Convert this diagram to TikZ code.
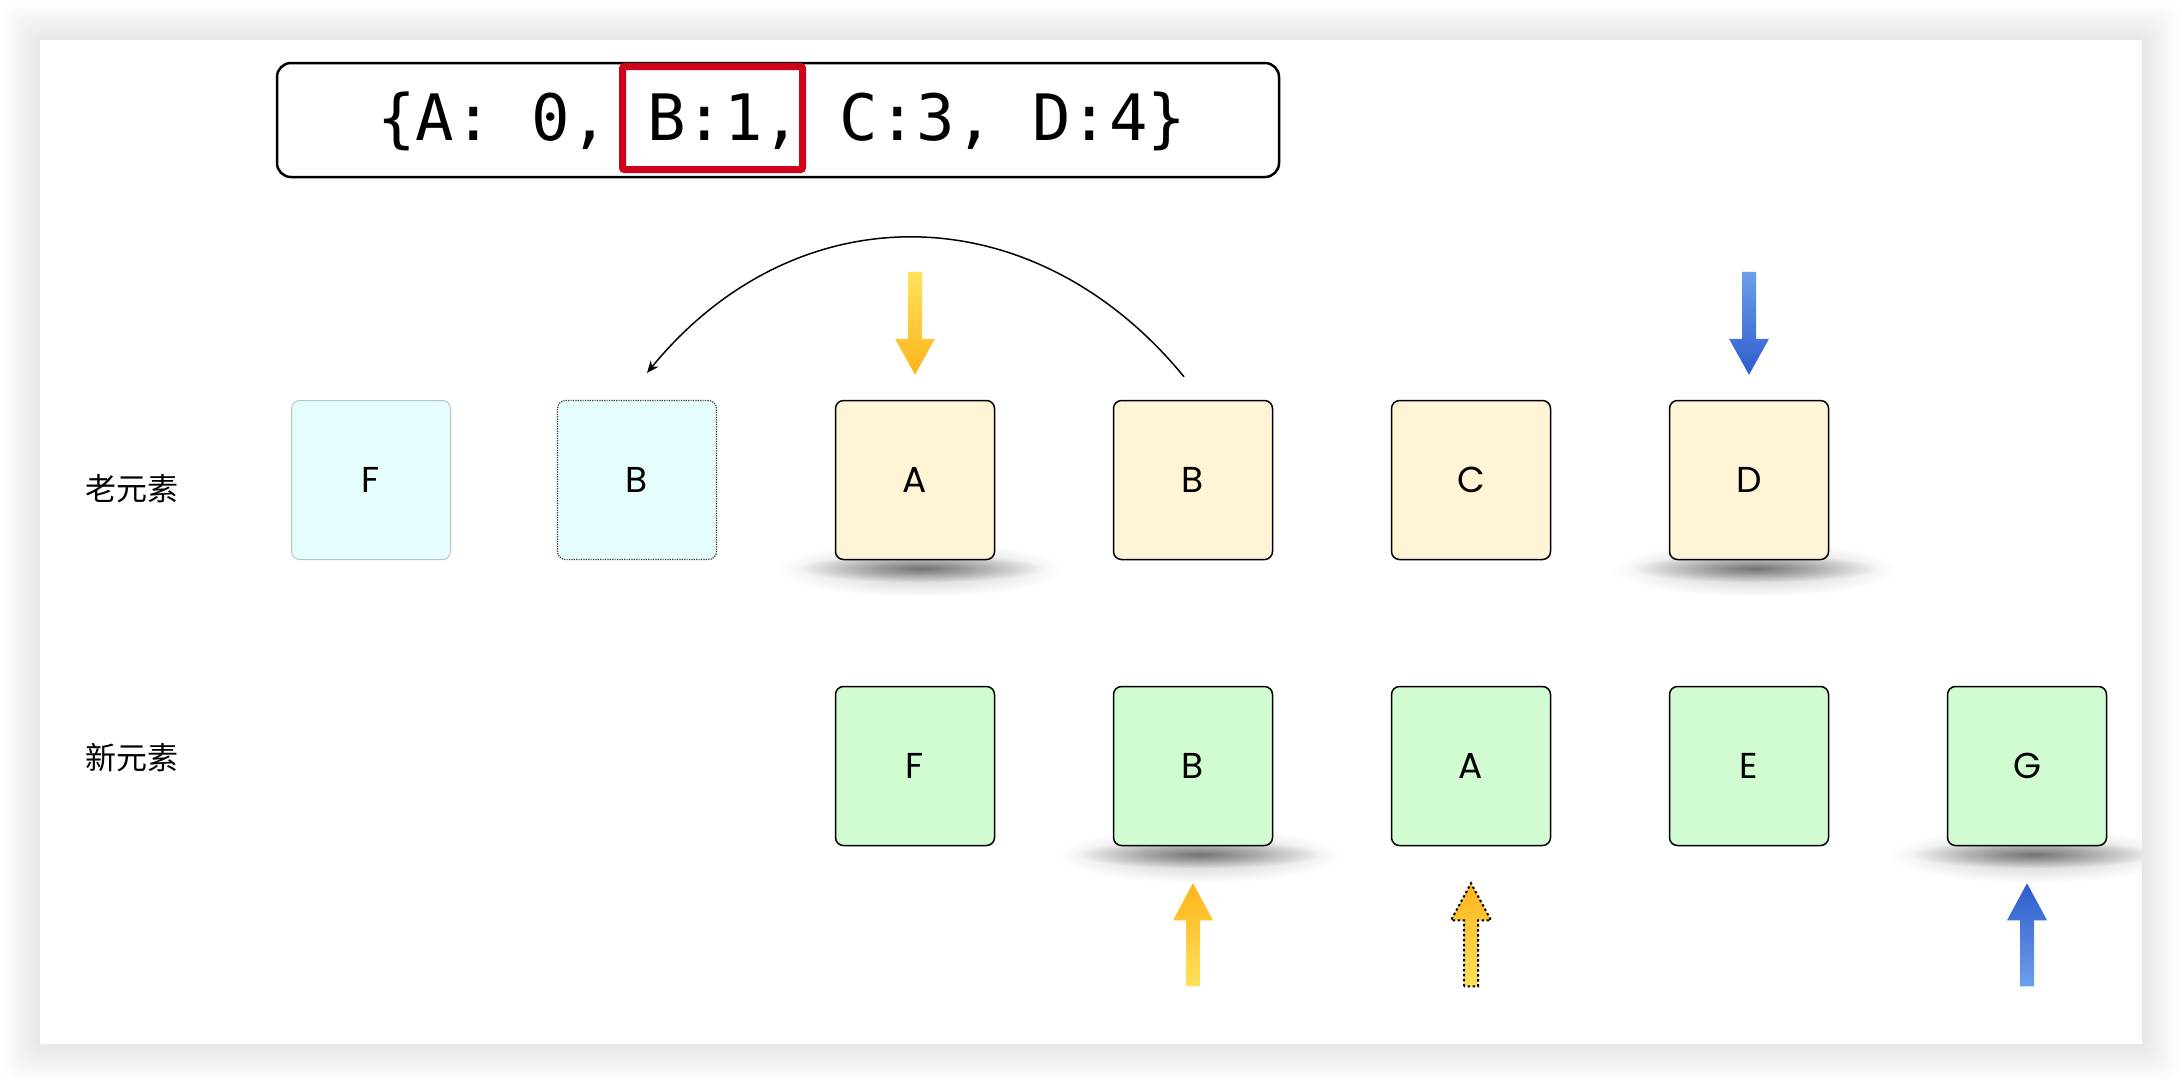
\documentclass[tikz,border=0pt]{standalone}
\usepackage{fontspec}
\usetikzlibrary{calc,fadings,arrows.meta,backgrounds}

\newfontfamily\monofont{DejaVu Sans Mono}
\newfontfamily\letterfont{Poppins}
\newfontfamily\cjk{Noto Sans CJK SC}

\definecolor{oldcyan}{HTML}{E6FDFD}
\definecolor{oldcyanline}{HTML}{B6C6C6}
\definecolor{oldyellow}{HTML}{FFF4D6}
\definecolor{newgreen}{HTML}{D1FBD0}
\definecolor{hlred}{HTML}{D0021B}
\definecolor{ylight}{HTML}{FFE25B}
\definecolor{ydark}{HTML}{FDB41C}
\definecolor{blight}{HTML}{6C9FEB}
\definecolor{bdark}{HTML}{2E5CCC}

\tikzfading[name=softspot, inner color=transparent!0, outer color=transparent!100]

\tikzset{
  % block pointer, tip at the origin, tail above (y grows downwards)
  ptrdown/.pic={\path[#1] (-7,-103) -- (-7,-36) -- (-20,-36) -- (0,0) -- (20,-36) -- (7,-36) -- (7,-103) -- cycle;},
  % block pointer, tip at the origin, tail below
  ptrup/.pic={\path[#1] (-7,103) -- (-7,37) -- (-20,37) -- (0,0) -- (20,37) -- (7,37) -- (7,103) -- cycle;},
  % soft floor shadow under a lifted cell
  floorshadow/.pic={
    \fill[black, opacity=0.22, path fading=softspot] (6,9) ellipse (72pt and 14pt);
    \fill[black, opacity=0.42, path fading=softspot] (6,8) ellipse (62pt and 7pt);
  },
}

\begin{document}
\begin{tikzpicture}[x=0.5pt, y=-0.5pt,
  cell/.style={rectangle, rounded corners=4pt, minimum size=79.5pt, inner sep=0pt,
    font=\letterfont\fontsize{18}{22}\selectfont},
  oldpast/.style={cell, fill=oldcyan, draw=oldcyanline, line width=0.5pt},
  oldmoved/.style={cell, fill=oldcyan, draw=black!80, line width=0.6pt, dash pattern=on 0.6pt off 0.6pt},
  oldcell/.style={cell, fill=oldyellow, draw=black, line width=0.75pt},
  newcell/.style={cell, fill=newgreen, draw=black, line width=0.75pt},
  rowlabel/.style={anchor=west, inner sep=0pt, font=\cjk\fontsize{15.5}{18}\selectfont},
  ydown/.style={top color=ylight, bottom color=ydark},
  yup/.style={top color=ydark, bottom color=ylight},
  bdown/.style={top color=blight, bottom color=bdark},
  bup/.style={top color=bdark, bottom color=blight},
]
\useasboundingbox (0,0) rectangle (2182,1084);

% key map
\node[draw, line width=1.25pt, rounded corners=7pt, minimum width=501pt, minimum height=57pt, inner sep=0pt]
  (frame) at (778,120) {};
\node[anchor=base, inner sep=0pt, font=\monofont\fontsize{32}{38}\selectfont]
  (dict) at (782,140) {\{A: 0, B:1, C:3, D:4\}};
\node[draw=hlred, line width=3.5pt, rounded corners=1pt, minimum width=90pt, minimum height=51.5pt, inner sep=0pt]
  (hl) at (712.5,118) {};

% row labels
\node[rowlabel] (lold) at (85,489) {老元素};
\node[rowlabel] (lnew) at (85,758) {新元素};

% old elements
\node[oldpast]  (oF)  at (371,480)  {F};
\node[oldmoved] (oBm) at (637,480)  {B};
\node[oldcell]  (oA)  at (915,480)  {A};
\node[oldcell]  (oB)  at (1193,480) {B};
\node[oldcell]  (oC)  at (1471,480) {C};
\node[oldcell]  (oD)  at (1749,480) {D};

% new elements
\node[newcell] (nF) at (915,766)  {F};
\node[newcell] (nB) at (1193,766) {B};
\node[newcell] (nA) at (1471,766) {A};
\node[newcell] (nE) at (1749,766) {E};
\node[newcell] (nG) at (2027,766) {G};

% B moves to the front
\draw[line width=0.75pt, -{Stealth[length=6pt, width=5pt]}]
  ($(oB.north)+(-9,-23)$) .. controls ($(oB.north)+(-159,-206)$) and ($(oBm.north)+(160,-210)$) .. ($(oBm.north)+(10,-27)$);

% pointers
\pic at ($(oA.north)+(0,-25)$) {ptrdown=ydown};
\pic at ($(oD.north)+(0,-25)$) {ptrdown=bdown};
\pic at ($(nB.south)+(0,37)$) {ptrup=yup};
\pic at ($(nA.south)+(0,37)$) {ptrup={yup, draw=black, line width=1pt, dash pattern=on 1.2pt off 1.3pt}};
\pic at ($(nG.south)+(0,37)$) {ptrup=bup};

\begin{scope}[on background layer]
  \fill[white] (0,0) rectangle (2182,1084);
  \foreach \i in {1,...,12}
    \fill[black, opacity=0.007, rounded corners=6pt] ({40-3*\i},{40-3*\i}) rectangle ({2142+3*\i},{1044+3*\i});
  \fill[white] (40,40) rectangle (2142,1044);
  \begin{scope}
    \clip (40,40) rectangle (2142,1044);
    \pic at (oA.south) {floorshadow};
    \pic at (oD.south) {floorshadow};
    \pic at (nB.south) {floorshadow};
    \pic at (nG.south) {floorshadow};
  \end{scope}
\end{scope}
\end{tikzpicture}
\end{document}
